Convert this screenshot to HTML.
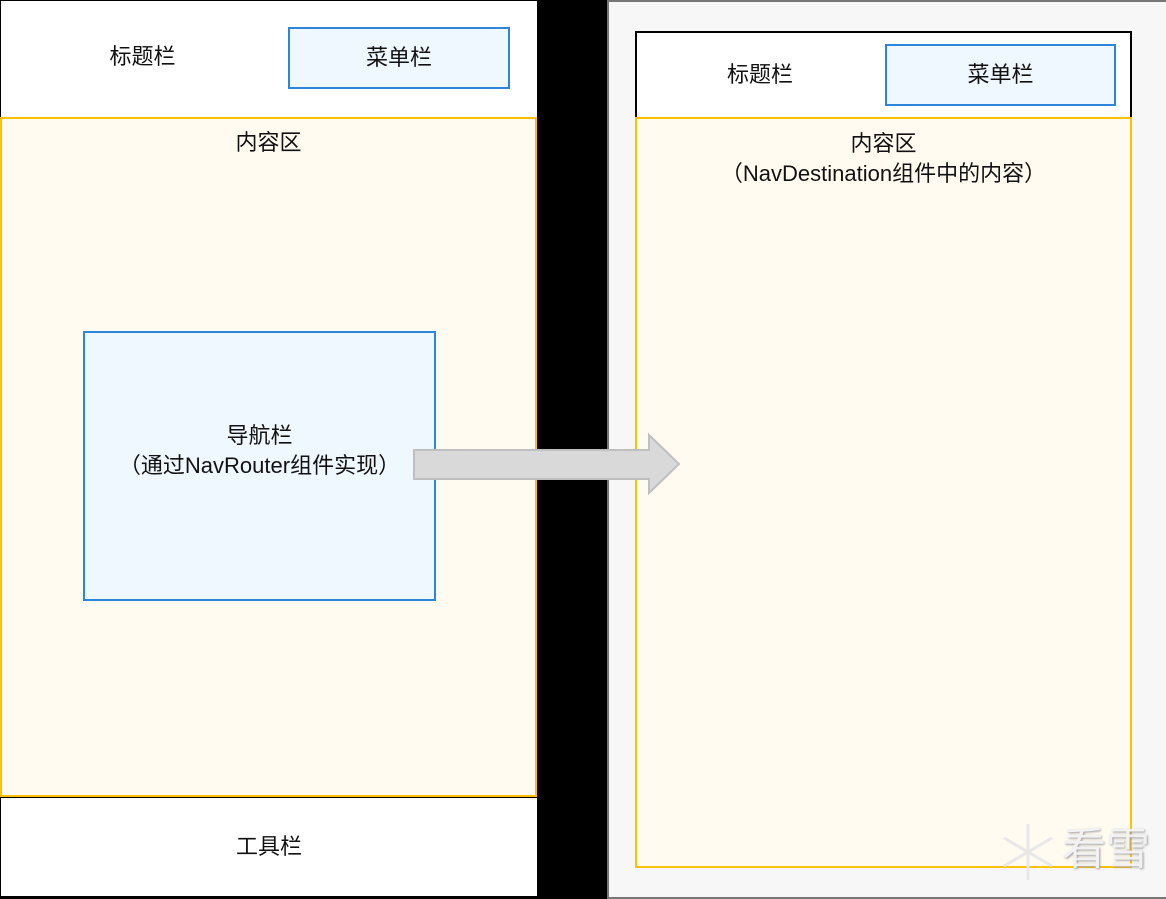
<!DOCTYPE html>
<html><head><meta charset="utf-8"><style>
html,body{margin:0;padding:0;}
body{width:1166px;height:899px;background:#000;position:relative;overflow:hidden;font-family:"Liberation Sans","Noto Sans CJK SC",sans-serif;font-size:22px;color:#111;}
.b{position:absolute;box-sizing:border-box;}
.c{display:flex;align-items:center;justify-content:center;text-align:center;line-height:30px;}
</style></head><body>
<div class="b" style="left:1px;top:1px;width:536px;height:116px;background:#fff;"></div>
<div class="b c" style="left:60px;top:40px;width:165px;height:34px;">标题栏</div>
<div class="b c" style="left:288px;top:27px;width:222px;height:62px;background:#f0f8ff;border:2px solid #2d86d9;">菜单栏</div>
<div class="b" style="left:0;top:117px;width:537px;height:680px;background:#fffbf0;border:2px solid #ffc000;"></div>
<div class="b c" style="left:0;top:127px;width:537px;height:32px;">内容区</div>
<div class="b" style="left:83px;top:331px;width:353px;height:270px;background:#f0f8ff;border:2px solid #2d86d9;"></div>
<div class="b c" style="left:83px;top:421px;width:353px;height:60px;flex-direction:column;">导航栏<br>（通过NavRouter组件实现）</div>
<div class="b c" style="left:1px;top:798px;width:536px;height:98px;background:#fff;">工具栏</div>
<div class="b" style="left:607px;top:0;width:559px;height:899px;background:#f7f7f7;border:2px solid #777;border-right:none;"></div>
<div class="b" style="left:635px;top:31px;width:497px;height:88px;background:#fff;border:2px solid #000;"></div>
<div class="b c" style="left:680px;top:58px;width:160px;height:34px;">标题栏</div>
<div class="b c" style="left:885px;top:44px;width:231px;height:62px;background:#f0f8ff;border:2px solid #2d86d9;">菜单栏</div>
<div class="b" style="left:635px;top:117px;width:497px;height:751px;background:#fffbf0;border:2px solid #ffc000;"></div>
<div class="b c" style="left:635px;top:127px;width:497px;height:64px;flex-direction:column;">内容区<br>（NavDestination组件中的内容）</div>
<svg class="b" style="left:0;top:0;" width="1166" height="899">
<polygon points="414,450 649,450 649,435 679,464 649,493 649,479 414,479" fill="#d9d9d9" stroke="#bfbfbf" stroke-width="2"/>
<g stroke="#e8e8e8" stroke-width="3" fill="none">
<line x1="1028" y1="824" x2="1028" y2="880"/>
<line x1="1004" y1="838" x2="1052" y2="866"/>
<line x1="1004" y1="866" x2="1052" y2="838"/>
</g>
</svg>
<div class="b" style="left:1062px;top:822px;font-size:44px;line-height:56px;color:#f2f2f2;text-shadow:1px 1px 2px #999;">看雪</div>
</body></html>
